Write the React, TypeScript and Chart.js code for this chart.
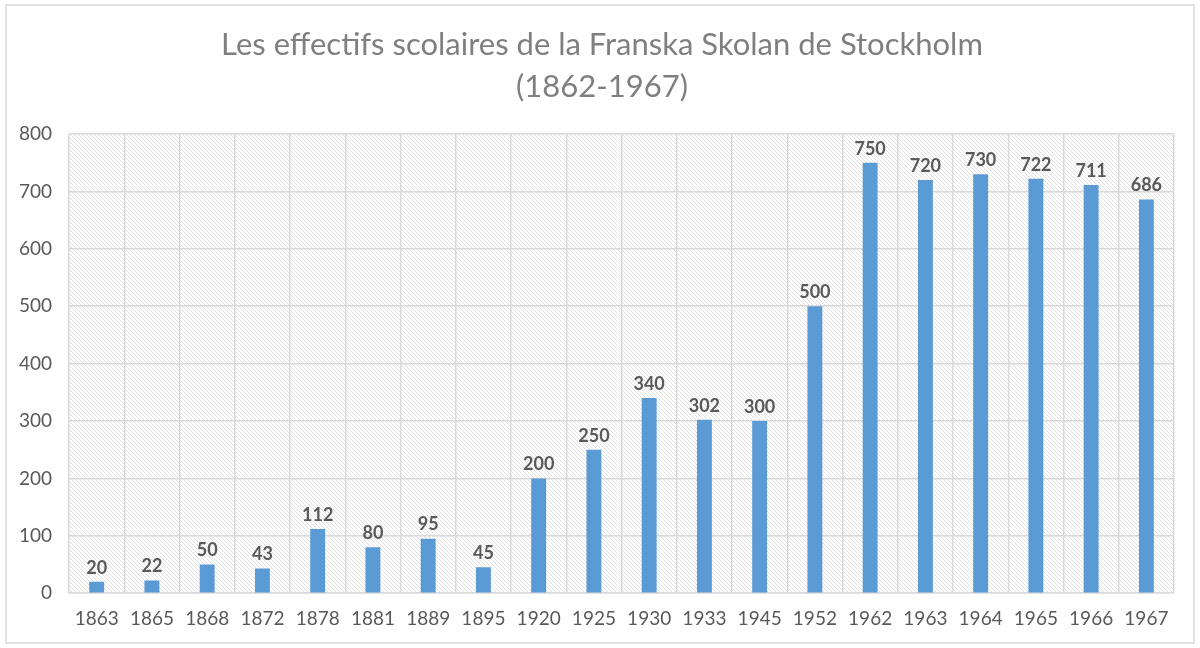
import React, { useEffect, useRef } from 'react';
import { Chart, registerables } from 'chart.js';

Chart.register(...registerables);

const years = ['1863', '1865', '1868', '1872', '1878', '1881', '1889', '1895', '1920', '1925',
  '1930', '1933', '1945', '1952', '1962', '1963', '1964', '1965', '1966', '1967'];
const pupils = [20, 22, 50, 43, 112, 80, 95, 45, 200, 250, 340, 302, 300, 500, 750, 720, 730, 722, 711, 686];
const titleLines = ['Les effectifs scolaires de la Franska Skolan de Stockholm', '(1862-1967)'];

const FONT = 'Lato, "Open Sans", sans-serif';

// diagonal hatch tile used behind the plot
const makeHatch = (ctx: CanvasRenderingContext2D) => {
  const s = 4;
  const tile = document.createElement('canvas');
  tile.width = s;
  tile.height = s;
  const t = tile.getContext('2d')!;
  t.strokeStyle = '#d9d9d9';
  t.lineWidth = 0.8;
  for (let k = -1; k <= 1; k++) {
    t.beginPath();
    t.moveTo(k * s, 0);
    t.lineTo(k * s + s, s);
    t.stroke();
  }
  return ctx.createPattern(tile, 'repeat');
};

const backdrop = {
  id: 'backdrop',
  beforeDraw(chart: any) {
    const { ctx, chartArea: a, width, height } = chart;
    ctx.save();
    ctx.fillStyle = '#ffffff';
    ctx.fillRect(0, 0, width, height);
    ctx.strokeStyle = '#d9d9d9';
    ctx.lineWidth = 1.5;
    ctx.strokeRect(6, 5, width - 12, height - 10);
    const p = makeHatch(ctx);
    if (p) {
      ctx.fillStyle = p;
      ctx.fillRect(a.left, a.top, a.right - a.left, a.bottom - a.top);
    }
    // title, centred on the outer frame rather than the plot
    ctx.fillStyle = '#7f7f7f';
    ctx.font = `31px ${FONT}`;
    ctx.textAlign = 'center';
    ctx.textBaseline = 'middle';
    titleLines.forEach((line, i) => ctx.fillText(line, 602, 45 + i * 42));
    ctx.restore();
  },
};

const valueLabels = {
  id: 'valueLabels',
  afterDatasetsDraw(chart: any) {
    const { ctx } = chart;
    const meta = chart.getDatasetMeta(0);
    ctx.save();
    ctx.fillStyle = '#595959';
    ctx.font = `bold 18px ${FONT}`;
    ctx.textAlign = 'center';
    ctx.textBaseline = 'bottom';
    meta.data.forEach((bar: any, i: number) => {
      ctx.fillText(String(pupils[i]), bar.x, bar.y - 5);
    });
    ctx.restore();
  },
};

export default function App() {
  const canvasRef = useRef<HTMLCanvasElement | null>(null);

  useEffect(() => {
    if (!canvasRef.current) return;
    const chart = new Chart(canvasRef.current, {
      type: 'bar',
      data: {
        labels: years,
        datasets: [
          {
            data: pupils,
            backgroundColor: '#5b9bd5',
            borderWidth: 0,
            categoryPercentage: 1,
            barPercentage: 0.27,
          },
        ],
      },
      options: {
        animation: false,
        responsive: false,
        layout: { padding: { left: 2, right: 26, top: 134, bottom: 4 } },
        plugins: {
          legend: { display: false },
          tooltip: { enabled: false },
          title: { display: false },
        },
        scales: {
          x: {
            offset: true,
            grid: { offset: true, color: '#d9d9d9', lineWidth: 1.5, drawTicks: false },
            border: { color: '#d9d9d9', width: 1.5 },
            ticks: { color: '#595959', font: { family: FONT, size: 19 }, padding: 14, maxRotation: 0 },
          },
          y: {
            min: 0,
            max: 800,
            grid: { color: '#d9d9d9', lineWidth: 1.5, drawTicks: false },
            border: { display: false },
            ticks: { stepSize: 100, color: '#595959', font: { family: FONT, size: 19 }, padding: 17 },
          },
        },
      },
      plugins: [backdrop, valueLabels],
    });
    return () => chart.destroy();
  }, []);

  return (
    <div style={{ position: 'fixed', left: 0, top: 0, width: 1200, height: 648 }}>
      <canvas ref={canvasRef} width={1200} height={648} />
    </div>
  );
}
